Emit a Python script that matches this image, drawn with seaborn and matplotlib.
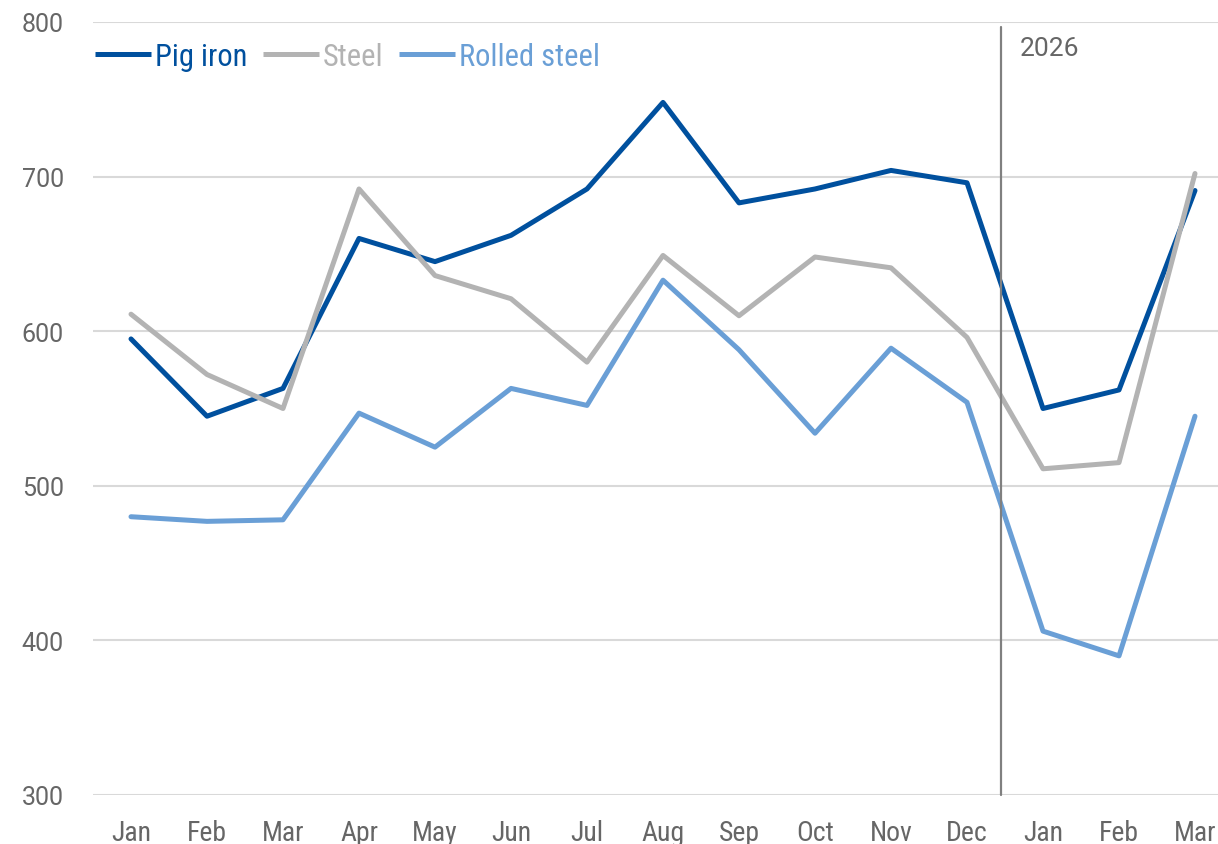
import pandas as pd
import numpy as np
import matplotlib.pyplot as plt
import seaborn as sns

# Data
months = ['Jan', 'Feb', 'Mar', 'Apr', 'May', 'Jun', 'Jul', 'Aug', 'Sep',
          'Oct', 'Nov', 'Dec', 'Jan', 'Feb', 'Mar']
pig_iron = [595, 545, 563, 660, 645, 662, 692, 748, 683, 692, 704, 696, 550, 562, 691]
steel = [611, 572, 550, 692, 636, 621, 580, 649, 610, 648, 641, 596, 511, 515, 702]
rolled_steel = [480, 477, 478, 547, 525, 563, 552, 633, 588, 534, 589, 554, 406, 390, 545]
series_names = ['Pig iron', 'Steel', 'Rolled steel']
colors = ['#00509E', '#B3B3B3', '#6A9FD6']

df = pd.DataFrame({
    'idx': list(range(len(months))) * 3,
    'value': pig_iron + steel + rolled_steel,
    'series': np.repeat(series_names, len(months)),
})

sns.set_style('white')
plt.rcParams['font.family'] = ['Roboto Condensed', 'Archivo Narrow', 'DejaVu Sans']

fig = plt.figure(figsize=(12.18, 8.45), dpi=100)
W, H = 1218, 845
left, right, top, bottom = 93, 93 + 15 * 76, 23, 796
ax = fig.add_axes([left / W, (H - bottom) / H, (right - left) / W, (bottom - top) / H])

sns.lineplot(data=df, x='idx', y='value', hue='series', hue_order=series_names,
             palette=colors, linewidth=3.6, ax=ax, legend=False)
for ln in ax.lines:
    ln.set_solid_capstyle('round')
    ln.set_solid_joinstyle('round')

ax.set_xlim(-0.5, 14.5)
ax.set_ylim(300, 800)
ax.set_yticks(range(300, 801, 100))
ax.set_xticks(range(len(months)))
ax.set_xticklabels(months)
ax.set_xlabel('')
ax.set_ylabel('')
ax.grid(axis='y', color='#D9D9D9', linewidth=1.5)
ax.set_axisbelow(True)
for s in ax.spines.values():
    s.set_visible(False)
ax.tick_params(axis='both', length=0, labelcolor='#666666')
ax.tick_params(axis='y', pad=21, labelsize=18)
ax.tick_params(axis='x', pad=17, labelsize=20)
for lab in ax.get_yticklabels():
    lab.set_fontfamily(['Roboto', 'DejaVu Sans'])

# Year divider
ax.plot([11.45, 11.45], [300, 797], color='#808080', linewidth=1.6, clip_on=False)
ax.text(11.7, 783, '2026', fontsize=19, color='#666666', va='center', ha='left',
        family=['Roboto', 'DejaVu Sans'])

# Legend
handles = [plt.Line2D([], [], color=c, linewidth=3.6, solid_capstyle='butt') for c in colors]
leg = ax.legend(handles, series_names, loc='upper left', bbox_to_anchor=(-0.009, 0.99),
                ncol=3, frameon=False, fontsize=22, handlelength=1.85,
                handletextpad=0.12, columnspacing=0.5, borderaxespad=0.0)
for t, c in zip(leg.get_texts(), colors):
    t.set_color(c)

fig.savefig('out.png', dpi=100)
